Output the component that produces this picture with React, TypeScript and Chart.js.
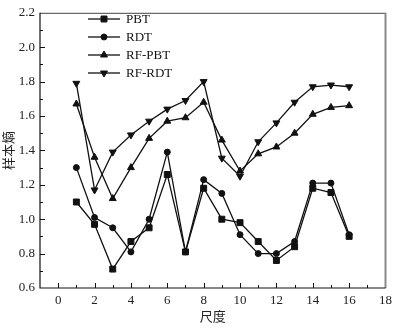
import React, { useEffect, useRef } from "react";
import { Chart, registerables } from "chart.js";

Chart.register(...registerables);

const scales = [1, 2, 3, 4, 5, 6, 7, 8, 9, 10, 11, 12, 13, 14, 15, 16];
const pbt = [1.10, 0.97, 0.71, 0.87, 0.95, 1.26, 0.81, 1.18, 1.00, 0.98, 0.87, 0.76, 0.84, 1.18, 1.155, 0.90];
const rdt = [1.30, 1.01, 0.95, 0.81, 1.00, 1.39, 0.81, 1.23, 1.15, 0.91, 0.80, 0.80, 0.87, 1.21, 1.21, 0.91];
const rfPbt = [1.67, 1.36, 1.12, 1.30, 1.47, 1.57, 1.59, 1.68, 1.46, 1.28, 1.38, 1.42, 1.50, 1.61, 1.65, 1.66];
const rfRdt = [1.79, 1.17, 1.39, 1.49, 1.57, 1.64, 1.69, 1.80, 1.355, 1.25, 1.45, 1.56, 1.68, 1.77, 1.78, 1.77];
const seriesNames = ["PBT", "RDT", "RF-PBT", "RF-RDT"];
const xTicks = [0, 2, 4, 6, 8, 10, 12, 14, 16, 18];
const yTicks = [0.6, 0.8, 1.0, 1.2, 1.4, 1.6, 1.8, 2.0, 2.2];
const xTitle = "尺度";
const yTitle = "样本熵";

const SERIF = '"Liberation Serif", "DejaVu Serif", serif';
const CJK = '"Noto Sans CJK SC", sans-serif';

const markerStyles: any[] = [
  { pointStyle: "rect", radius: 4.2, rotation: 0 },
  { pointStyle: "circle", radius: 3, rotation: 0 },
  { pointStyle: "triangle", radius: 4, rotation: 0 },
  { pointStyle: "triangle", radius: 4, rotation: 180 },
];

function drawMarker(ctx: CanvasRenderingContext2D, m: any, x: number, y: number) {
  const r = m.radius;
  ctx.beginPath();
  if (m.pointStyle === "rect") {
    const s = r / Math.SQRT2;
    ctx.rect(x - s, y - s, 2 * s, 2 * s);
  } else if (m.pointStyle === "circle") {
    ctx.arc(x, y, r, 0, Math.PI * 2);
  } else {
    const rad = (m.rotation * Math.PI) / 180;
    for (let k = 0; k < 3; k++) {
      const a = rad - Math.PI / 2 + (k * 2 * Math.PI) / 3;
      const px = x + Math.cos(a) * r;
      const py = y + Math.sin(a) * r;
      if (k === 0) ctx.moveTo(px, py);
      else ctx.lineTo(px, py);
    }
    ctx.closePath();
  }
  ctx.fill();
  ctx.stroke();
}

const framePlugin = {
  id: "frameTicksLegend",
  afterDraw(chart: any) {
    const ctx = chart.ctx;
    const { left, right, top, bottom } = chart.chartArea;
    const xs = chart.scales.x;
    const ys = chart.scales.y;
    ctx.save();
    ctx.lineWidth = 1;
    ctx.strokeStyle = "#444";
    ctx.beginPath();
    ctx.moveTo(left, top + 0.5);
    ctx.lineTo(right, top + 0.5);
    ctx.stroke();
    ctx.lineWidth = 2;
    ctx.strokeStyle = "#8a8a8a";
    ctx.beginPath();
    ctx.moveTo(right, top);
    ctx.lineTo(right, bottom);
    ctx.stroke();
    ctx.lineWidth = 1.2;
    ctx.strokeStyle = "#111";
    ctx.beginPath();
    ctx.moveTo(left, top);
    ctx.lineTo(left, bottom);
    ctx.lineTo(right, bottom);
    ctx.stroke();
    ctx.lineWidth = 1;
    for (let v = 0; v <= 17; v++) {
      const px = Math.round(xs.getPixelForValue(v)) + 0.5;
      const len = v % 2 === 0 ? 5 : 3;
      ctx.beginPath();
      ctx.moveTo(px, bottom);
      ctx.lineTo(px, bottom - len);
      ctx.stroke();
    }
    for (let i = 7; i <= 21; i++) {
      const v = i / 10;
      const py = Math.round(ys.getPixelForValue(v)) + 0.5;
      const len = i % 2 === 0 ? 5 : 3;
      ctx.beginPath();
      ctx.moveTo(left, py);
      ctx.lineTo(left + len, py);
      ctx.stroke();
    }
    const lx0 = 88;
    const lx1 = 120;
    const rowY = [19, 37, 55, 73];
    ctx.font = "13px " + SERIF;
    ctx.textBaseline = "middle";
    ctx.textAlign = "left";
    chart.data.datasets.forEach((ds: any, i: number) => {
      const y = rowY[i];
      ctx.strokeStyle = "#111";
      ctx.lineWidth = 1.3;
      ctx.beginPath();
      ctx.moveTo(lx0, y);
      ctx.lineTo(lx1, y);
      ctx.stroke();
      ctx.fillStyle = "#111";
      ctx.lineWidth = 1;
      drawMarker(ctx, markerStyles[i], (lx0 + lx1) / 2, y);
      ctx.fillStyle = "#111";
      ctx.fillText(ds.label, 126, y + 1);
    });
    ctx.restore();
  },
};

export default function App() {
  const ref = useRef<HTMLCanvasElement | null>(null);
  useEffect(() => {
    if (!ref.current) return;
    const all = [pbt, rdt, rfPbt, rfRdt];
    const chart = new Chart(ref.current, {
      type: "line",
      data: {
        datasets: all.map((arr, i) => ({
          label: seriesNames[i],
          data: scales.map((x, j) => ({ x, y: arr[j] })),
          borderColor: "#111",
          backgroundColor: "#111",
          borderWidth: 1.3,
          pointStyle: markerStyles[i].pointStyle,
          pointRadius: markerStyles[i].radius,
          pointRotation: markerStyles[i].rotation,
          pointBorderWidth: 1,
          pointBorderColor: "#111",
          pointBackgroundColor: "#111",
          tension: 0,
          fill: false,
        })),
      },
      options: {
        responsive: false,
        animation: false,
        events: [],
        layout: { padding: { left: 0, top: 6, right: 9, bottom: 0 } },
        plugins: { legend: { display: false }, tooltip: { enabled: false } },
        scales: {
          x: {
            type: "linear",
            min: -1,
            max: 18,
            grid: { display: false, drawTicks: false },
            border: { display: false },
            afterBuildTicks: (s: any) => {
              s.ticks = xTicks.map((v) => ({ value: v }));
            },
            afterFit: (s: any) => {
              s.height = 43;
            },
            ticks: {
              padding: 5,
              color: "#222",
              font: { family: SERIF, size: 13 },
              maxRotation: 0,
              autoSkip: false,
              callback: (v: any) => String(v),
            },
            title: {
              display: true,
              text: xTitle,
              color: "#222",
              font: { family: CJK, size: 13 },
              padding: { top: 0, bottom: 7 },
            },
          },
          y: {
            type: "linear",
            min: 0.6,
            max: 2.2,
            grid: { display: false, drawTicks: false },
            border: { display: false },
            afterBuildTicks: (s: any) => {
              s.ticks = yTicks.map((v) => ({ value: v }));
            },
            afterFit: (s: any) => {
              s.width = 40;
            },
            ticks: {
              padding: 5,
              color: "#222",
              font: { family: SERIF, size: 13 },
              autoSkip: false,
              callback: (v: any) => Number(v).toFixed(1),
            },
            title: {
              display: true,
              text: yTitle,
              color: "#222",
              font: { family: CJK, size: 13 },
              padding: { top: 0, bottom: 0 },
            },
          },
        },
      },
      plugins: [framePlugin],
    } as any);
    return () => chart.destroy();
  }, []);
  return (
    <canvas
      ref={ref}
      width={397}
      height={331}
      style={{ position: "fixed", left: 0, top: 0, width: 397, height: 331 }}
    />
  );
}
